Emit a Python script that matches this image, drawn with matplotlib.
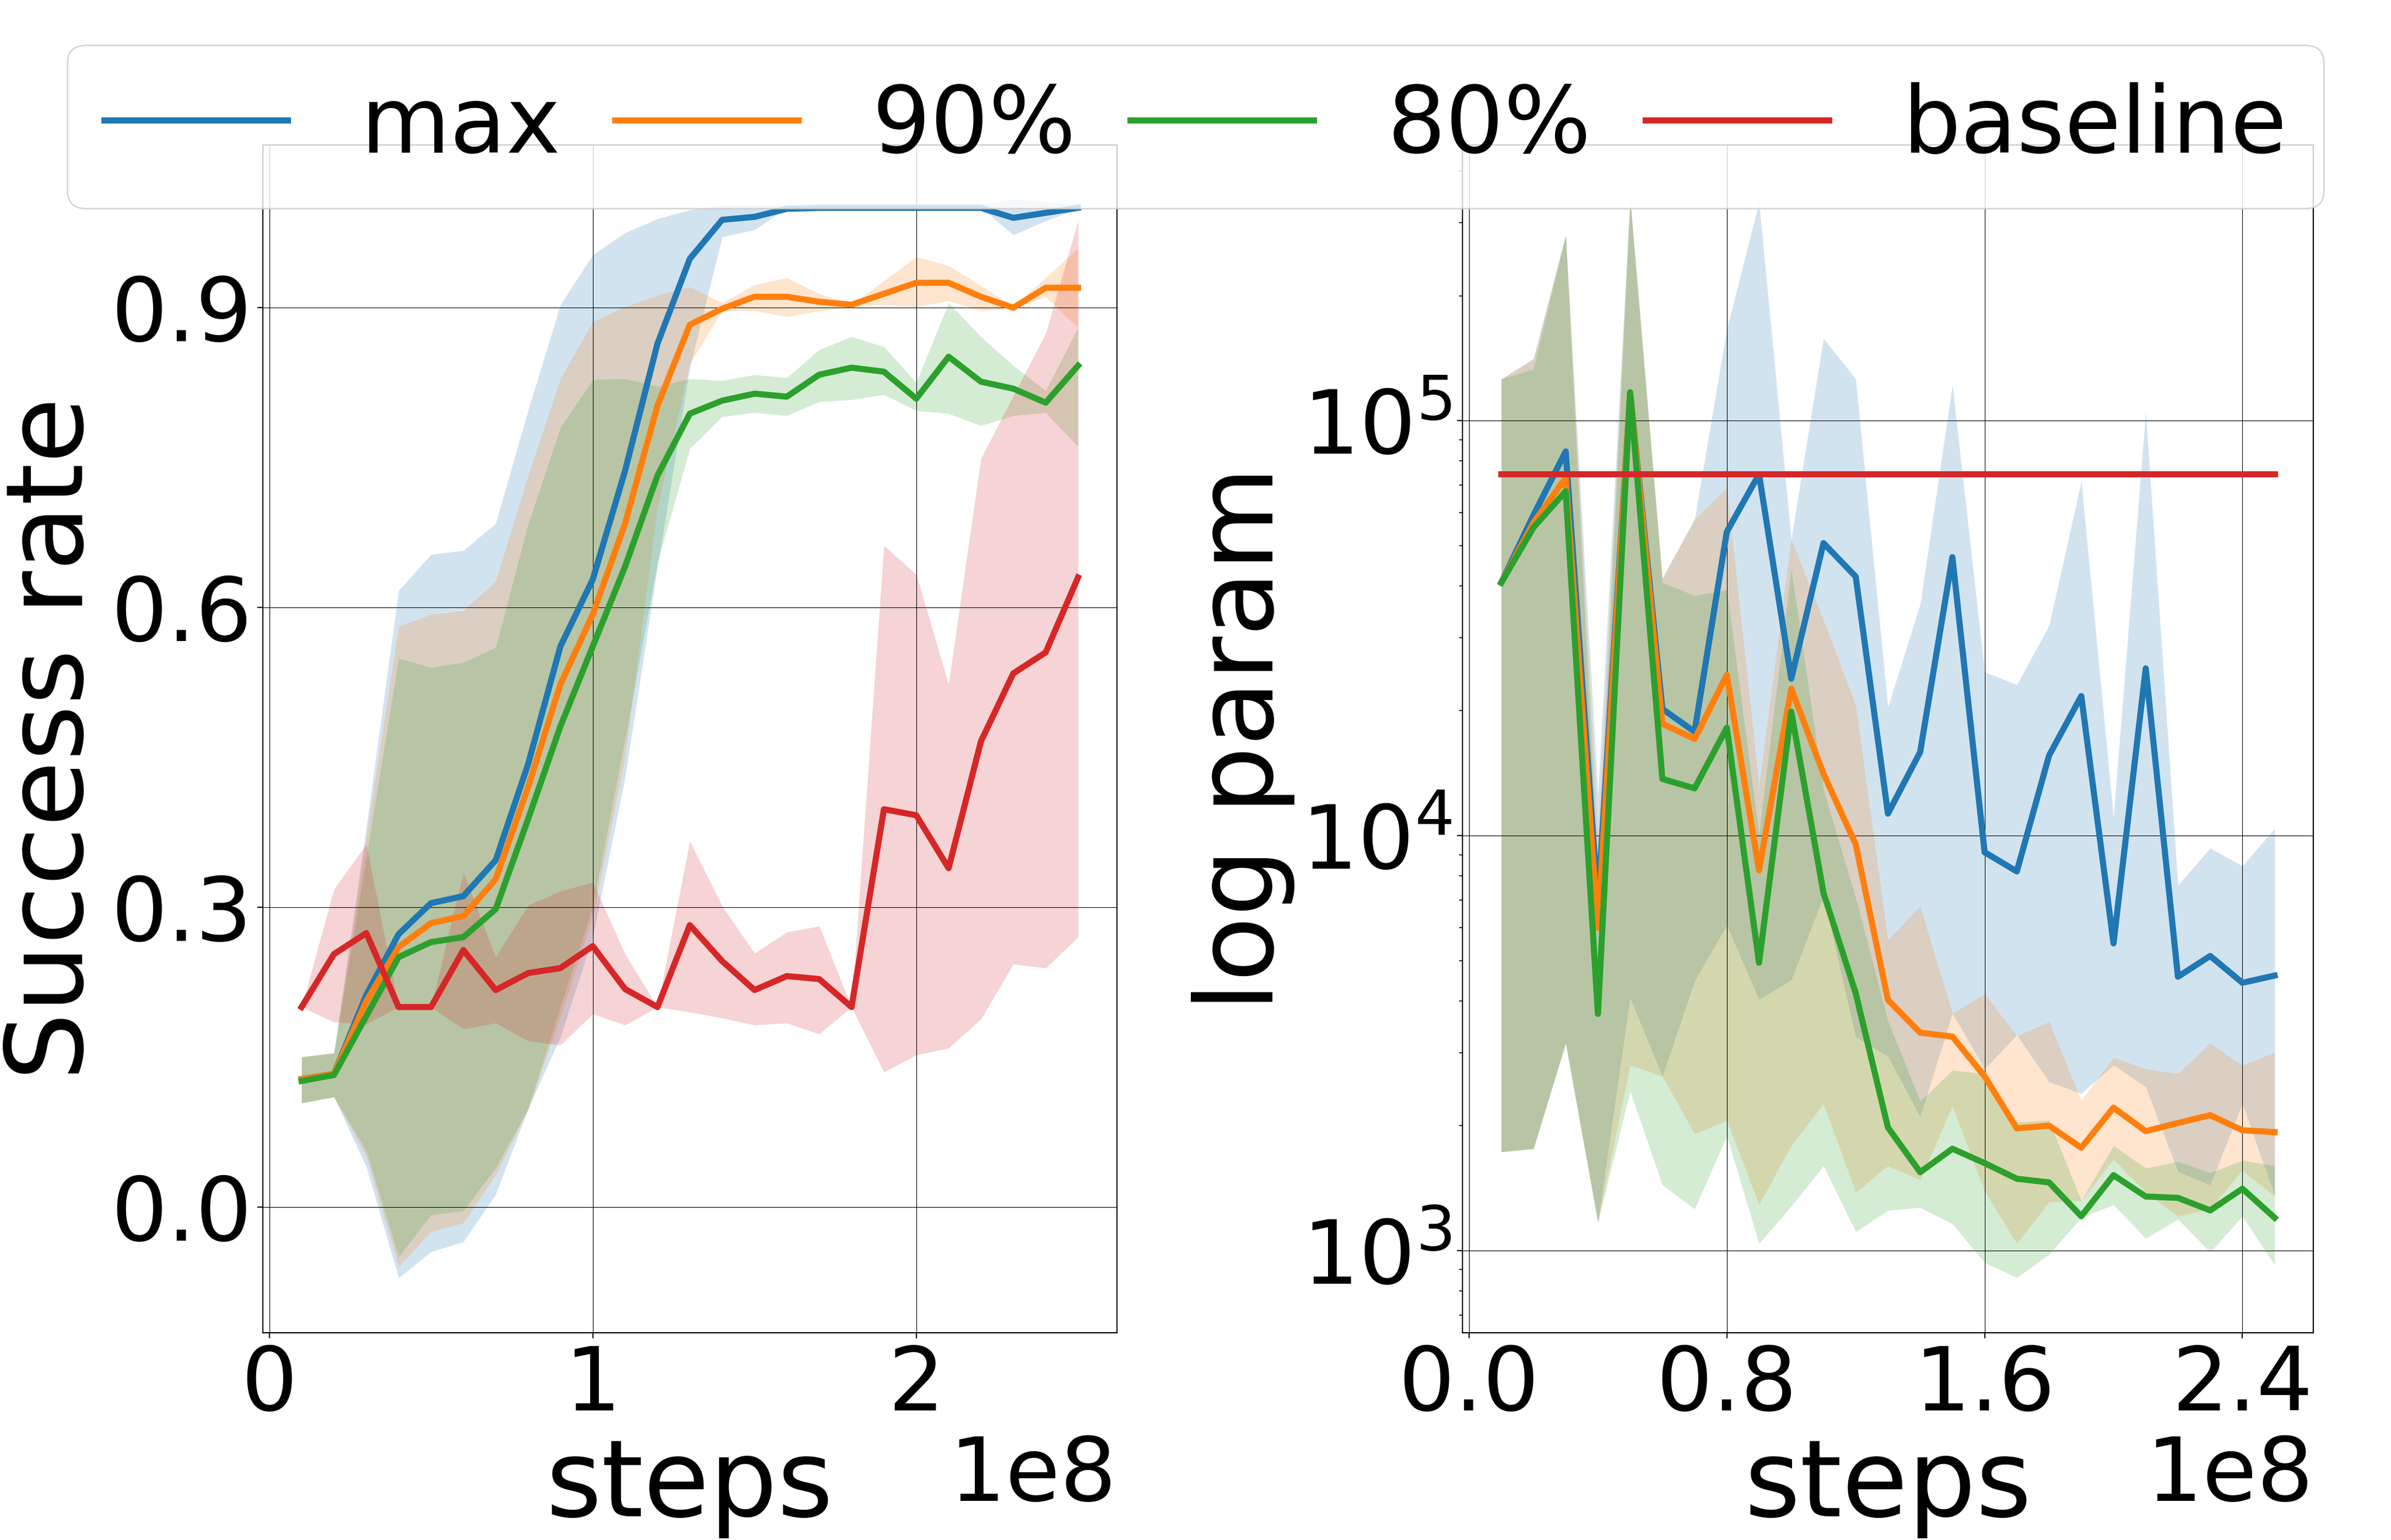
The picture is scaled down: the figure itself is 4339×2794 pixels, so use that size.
import matplotlib
matplotlib.use("Agg")
import matplotlib.pyplot as plt

# x positions (environment steps)
steps = [1e7, 2e7, 3e7, 4e7, 5e7, 6e7, 7e7, 8e7, 9e7, 1e8,
         1.1e8, 1.2e8, 1.3e8, 1.4e8, 1.5e8, 1.6e8, 1.7e8, 1.8e8, 1.9e8, 2e8,
         2.1e8, 2.2e8, 2.3e8, 2.4e8, 2.5e8]

labels = ["max", "90%", "80%", "baseline"]
colors = ["tab:blue", "tab:orange", "tab:green", "tab:red"]

# ---- left panel: success rate ----
sr_max = [0.128, 0.133, 0.212, 0.273, 0.304, 0.311, 0.347, 0.443, 0.561, 0.628,
          0.737, 0.864, 0.949, 0.988, 0.991, 0.999, 1.0, 1.0, 1.0, 1.0,
          1.0, 1.0, 0.99, 0.995, 1.0]
sr_max_hi = [0.15, 0.154, 0.38, 0.617, 0.653, 0.657, 0.684, 0.797, 0.903, 0.953,
             0.975, 0.989, 0.998, 1.003, 1.003, 1.003, 1.003, 1.003, 1.003, 1.003,
             1.003, 1.003, 1.009, 1.006, 1.004]
sr_max_lo = [0.104, 0.110, 0.040, -0.071, -0.045, -0.035, 0.0125, 0.098, 0.17, 0.27,
             0.43, 0.64, 0.84, 0.971, 0.978, 1.0, 1.0, 1.0, 1.0, 1.0,
             1.0, 1.0, 0.973, 0.987, 0.999]

sr_90 = [0.128, 0.133, 0.206, 0.26, 0.284, 0.291, 0.328, 0.42, 0.523, 0.593,
         0.684, 0.802, 0.883, 0.899, 0.911, 0.911, 0.906, 0.903, 0.914, 0.925,
         0.925, 0.911, 0.9, 0.92, 0.92]
sr_90_hi = [0.15, 0.154, 0.37, 0.581, 0.593, 0.597, 0.626, 0.732, 0.829, 0.886,
            0.901, 0.9125, 0.921, 0.905, 0.923, 0.930, 0.914, 0.903, 0.927, 0.951,
            0.942, 0.922, 0.901, 0.93, 0.96]
sr_90_lo = [0.104, 0.110, 0.05, -0.06, -0.025, -0.016, 0.032, 0.097, 0.19, 0.29,
            0.45, 0.70, 0.844, 0.897, 0.897, 0.891, 0.897, 0.901, 0.903, 0.901,
            0.907, 0.897, 0.899, 0.911, 0.88]

sr_80 = [0.126, 0.132, 0.191, 0.25, 0.265, 0.27, 0.298, 0.388, 0.481, 0.561,
         0.641, 0.732, 0.794, 0.807, 0.814, 0.811, 0.833, 0.840, 0.836, 0.809,
         0.851, 0.826, 0.819, 0.805, 0.842]
sr_80_hi = [0.15, 0.154, 0.35, 0.549, 0.54, 0.545, 0.56, 0.683, 0.78, 0.828,
            0.829, 0.821, 0.829, 0.827, 0.833, 0.83, 0.858, 0.871, 0.861, 0.825,
            0.905, 0.871, 0.842, 0.817, 0.88]
sr_80_lo = [0.104, 0.110, 0.056, -0.05, -0.008, -0.004, 0.039, 0.098, 0.2, 0.30,
            0.468, 0.645, 0.759, 0.791, 0.795, 0.792, 0.806, 0.808, 0.813, 0.797,
            0.794, 0.782, 0.792, 0.795, 0.761]

sr_base = [0.2, 0.253, 0.274, 0.2, 0.2, 0.257, 0.217, 0.234, 0.239, 0.261,
           0.218, 0.2, 0.282, 0.246, 0.217, 0.231, 0.228, 0.2, 0.398, 0.392,
           0.339, 0.466, 0.534, 0.555, 0.630]
sr_base_hi = [0.2, 0.318, 0.363, 0.2, 0.2, 0.335, 0.25, 0.302, 0.316, 0.325,
              0.253, 0.2, 0.366, 0.301, 0.254, 0.275, 0.281, 0.2, 0.662, 0.633,
              0.523, 0.749, 0.812, 0.874, 0.987]
sr_base_lo = [0.2, 0.185, 0.183, 0.2, 0.2, 0.178, 0.184, 0.166, 0.162, 0.193,
              0.182, 0.2, 0.195, 0.189, 0.182, 0.184, 0.173, 0.2, 0.135, 0.152,
              0.159, 0.188, 0.243, 0.239, 0.27]

# ---- right panel: parameter count (log scale) ----
pc_max = [40700, 59200, 84300, 6900, 117000, 20200, 17800, 54000, 74300, 23900,
          50700, 42100, 11300, 15900, 46900, 9120, 8200, 15600, 21700, 5500,
          25300, 4570, 5130, 4420, 4600]
pc_max_hi = [126000, 141000, 280000, 12600, 343000, 41700, 57900, 166000, 336000, 51800,
             158000, 126000, 20400, 36100, 122000, 24800, 23100, 32100, 71300, 11100,
             105000, 7590, 9330, 8450, 10400]
pc_max_lo = [1730, 1760, 3160, 1170, 4060, 2630, 4460, 6080, 4030, 4490,
             7140, 3270, 2940, 2100, 3730, 2740, 3310, 2550, 2390, 2800,
             2480, 1550, 1440, 2260, 1360]

pc_90 = [40700, 56800, 72800, 6000, 117000, 18600, 17100, 24400, 8250, 22600,
         14100, 9530, 4020, 3350, 3280, 2630, 1970, 2000, 1770, 2210,
         1940, 2030, 2120, 1950, 1930]
pc_90_hi = [126000, 141000, 280000, 10000, 339000, 41700, 57900, 69000, 13200, 51800,
            33100, 20600, 5610, 6760, 3730, 4160, 3290, 3560, 2300, 2920,
            2740, 2670, 3160, 2790, 3010]
pc_90_lo = [1730, 1760, 3160, 1170, 2800, 2630, 1910, 2060, 1290, 1790,
            2260, 1380, 1600, 1480, 2230, 1390, 1040, 1310, 1320, 1660,
            1380, 1210, 1260, 1560, 1350]

pc_80 = [40700, 55300, 67600, 3720, 117000, 13700, 13000, 18200, 4940, 19900,
         7280, 4170, 1980, 1545, 1760, 1625, 1490, 1460, 1210, 1520,
         1350, 1340, 1250, 1410, 1200]
pc_80_hi = [126000, 133000, 280000, 7940, 343000, 40700, 37900, 39100, 10100, 43900,
            12900, 7080, 3580, 2290, 2720, 2670, 2040, 2060, 1320, 1790,
            1580, 1640, 1540, 1650, 1600]
pc_80_lo = [1730, 1760, 3160, 1170, 2420, 1440, 1260, 1890, 1040, 1280,
            1600, 1110, 1250, 1270, 1160, 935, 861, 980, 1200, 1290,
            1070, 1190, 991, 1210, 923]

pc_base = [74500] * 25

sr_series = [(sr_max, sr_max_lo, sr_max_hi), (sr_90, sr_90_lo, sr_90_hi),
             (sr_80, sr_80_lo, sr_80_hi), (sr_base, sr_base_lo, sr_base_hi)]
pc_series = [(pc_max, pc_max_lo, pc_max_hi), (pc_90, pc_90_lo, pc_90_hi),
             (pc_80, pc_80_lo, pc_80_hi), (pc_base, pc_base, pc_base)]

tick_fs = 58
label_fs = 70

fig = plt.figure(figsize=(4339 / 200, 2794 / 200), dpi=200)
ax1 = fig.add_axes([0.1099, 0.1346, 0.3572, 0.7713])
ax2 = fig.add_axes([0.6117, 0.1346, 0.3558, 0.7713])

handles = []
for (m, lo, hi), c, lab in zip(sr_series, colors, labels):
    line, = ax1.plot(steps, m, color=c, lw=4, label=lab)
    ax1.fill_between(steps, lo, hi, color=c, alpha=0.2, linewidth=0)
    handles.append(line)

for (m, lo, hi), c in zip(pc_series, colors):
    ax2.plot(steps, m, color=c, lw=4)
    ax2.fill_between(steps, lo, hi, color=c, alpha=0.2, linewidth=0)

ax1.set_ylim(-0.126, 1.063)
ax1.set_yticks([0.0, 0.3, 0.6, 0.9])
ax1.set_xticks([0, 1e8, 2e8])
ax1.set_ylabel("Success rate", fontsize=label_fs)
ax1.set_xlabel("steps", fontsize=label_fs)

ax2.set_yscale("log")
ax2.set_ylim(634, 462000)
ax2.set_xticks([0, 0.8e8, 1.6e8, 2.4e8])
ax2.set_ylabel("log param", fontsize=label_fs)
ax2.set_xlabel("steps", fontsize=label_fs)

for ax in (ax1, ax2):
    ax.grid(True, color="black", linewidth=0.4)
    ax.tick_params(labelsize=tick_fs)
    ax.xaxis.get_offset_text().set_fontsize(tick_fs)

fig.legend(handles, labels, loc="upper left", ncol=4, mode="expand",
           bbox_to_anchor=(0.0281, 0.8644, 0.9438, 0.1063), borderaxespad=0,
           fontsize=60)

fig.savefig("out.png", dpi=200)
